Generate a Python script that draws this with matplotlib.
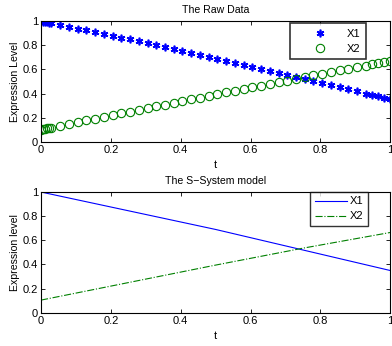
import matplotlib
matplotlib.use("Agg")
import matplotlib.pyplot as plt

plt.rcParams['font.family'] = ['Liberation Sans', 'DejaVu Sans']

# raw data (sampled time points)
t_raw = [0, 0.006, 0.012, 0.018, 0.024, 0.03, 0.055, 0.08, 0.105, 0.13, 0.155,
         0.18, 0.205, 0.23, 0.255, 0.28, 0.305, 0.33, 0.355, 0.38, 0.405, 0.43,
         0.455, 0.48, 0.505, 0.53, 0.555, 0.58, 0.605, 0.63, 0.655, 0.68, 0.705,
         0.73, 0.755, 0.78, 0.805, 0.83, 0.855, 0.88, 0.905, 0.93, 0.947, 0.964,
         0.981, 0.998]
x1_raw = [1.000, 0.996, 0.993, 0.989, 0.986, 0.983, 0.968, 0.953, 0.938, 0.923,
          0.908, 0.893, 0.878, 0.863, 0.848, 0.832, 0.816, 0.801, 0.785, 0.770,
          0.754, 0.738, 0.722, 0.706, 0.689, 0.673, 0.656, 0.640, 0.623, 0.607,
          0.590, 0.573, 0.556, 0.539, 0.522, 0.505, 0.488, 0.471, 0.453, 0.435,
          0.418, 0.400, 0.388, 0.376, 0.363, 0.351]
x2_raw = [0.100, 0.104, 0.107, 0.111, 0.114, 0.118, 0.133, 0.148, 0.163, 0.177,
          0.192, 0.207, 0.222, 0.236, 0.251, 0.266, 0.280, 0.295, 0.309, 0.324,
          0.338, 0.352, 0.367, 0.381, 0.395, 0.410, 0.424, 0.438, 0.452, 0.466,
          0.480, 0.494, 0.508, 0.522, 0.536, 0.550, 0.564, 0.577, 0.591, 0.605,
          0.618, 0.632, 0.641, 0.650, 0.660, 0.669]

# S-system model curves
t_model = [0, 0.25, 0.5, 0.75, 1.0]
x1_model = [1.0, 0.845, 0.69, 0.52, 0.35]
x2_model = [0.105, 0.25, 0.395, 0.535, 0.665]

ticks = [0, 0.2, 0.4, 0.6, 0.8, 1]
tick_labels = ['0', '0.2', '0.4', '0.6', '0.8', '1']

fig = plt.figure(figsize=(3.92, 3.46), dpi=100)
ax1 = fig.add_axes([0.1046, 0.590, 0.891, 0.349])
ax2 = fig.add_axes([0.1046, 0.096, 0.891, 0.349])


def style(ax):
    ax.set_xlim(0, 1)
    ax.set_ylim(0, 1)
    ax.set_xticks(ticks)
    ax.set_xticklabels(tick_labels)
    ax.set_yticks(ticks)
    ax.set_yticklabels(tick_labels)
    ax.tick_params(direction='in', length=3, width=0.6, labelsize=8,
                   top=True, right=True, pad=2)
    for s in ax.spines.values():
        s.set_linewidth(0.8)


ax1.plot(t_raw, x1_raw, ls='none', marker=(6, 2, 0), ms=5.5, mew=1.2,
         color='blue', label='X1')
ax1.plot(t_raw, x2_raw, ls='none', marker='o', ms=6, mew=0.8,
         mfc='none', mec=(0, 0.5, 0), label='X2')
style(ax1)
ax1.set_title('The Raw Data', fontsize=7.6, pad=6)
ax1.set_xlabel('t', fontsize=8, labelpad=4)
ax1.set_ylabel('Expression Level', fontsize=7.6, labelpad=2)
leg = ax1.legend(loc='upper right', bbox_to_anchor=(0.931, 0.983), fontsize=8,
                 frameon=True, fancybox=False, edgecolor='black',
                 handlelength=4.3, handletextpad=0.3, borderpad=0.5,
                 labelspacing=0.45, borderaxespad=0)
leg.get_frame().set_linewidth(1.2)

ax2.plot(t_model, x1_model, color='blue', lw=0.8, label='X1')
ax2.plot(t_model, x2_model, color=(0, 0.5, 0), lw=0.8, ls='-.', label='X2')
style(ax2)
ax2.set_title('The S\u2212System model', fontsize=7.6, pad=6)
ax2.set_xlabel('t', fontsize=8, labelpad=4)
ax2.set_ylabel('Expression level', fontsize=7.6, labelpad=2)
leg2 = ax2.legend(loc='upper right', bbox_to_anchor=(0.937, 1.0), fontsize=8,
                  frameon=True, fancybox=False, edgecolor='black',
                  handlelength=2.9, handletextpad=0.3, borderpad=0.4,
                  labelspacing=0.45, borderaxespad=0)
leg2.get_frame().set_linewidth(1.0)

fig.savefig('out.png', dpi=100)
